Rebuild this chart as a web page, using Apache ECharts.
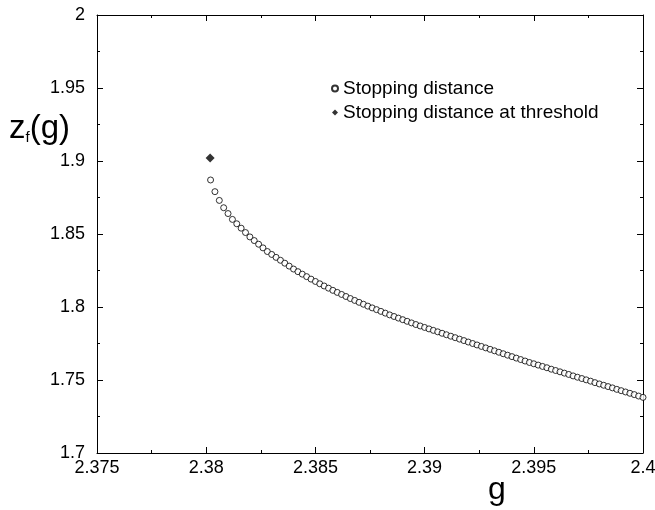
<!DOCTYPE html>
<html>
<head>
<meta charset="utf-8">
<script src="https://cdn.jsdelivr.net/npm/echarts@6/dist/echarts.min.js"></script>
<style>
  html, body { margin: 0; padding: 0; background: #fff; }
  #chart { width: 655px; height: 510px; }
</style>
</head>
<body>
<div id="chart"></div>
<script>
// stopping distance z_f(g)
const gValues = [
  2.3802, 2.3804, 2.3806, 2.3808, 2.3810, 2.3812, 2.3814, 2.3816, 2.3818, 2.3820,
  2.3822, 2.3824, 2.3826, 2.3828, 2.3830, 2.3832, 2.3834, 2.3836, 2.3838, 2.3840,
  2.3842, 2.3844, 2.3846, 2.3848, 2.3850, 2.3852, 2.3854, 2.3856, 2.3858, 2.3860,
  2.3862, 2.3864, 2.3866, 2.3868, 2.3870, 2.3872, 2.3874, 2.3876, 2.3878, 2.3880,
  2.3882, 2.3884, 2.3886, 2.3888, 2.3890, 2.3892, 2.3894, 2.3896, 2.3898, 2.3900,
  2.3902, 2.3904, 2.3906, 2.3908, 2.3910, 2.3912, 2.3914, 2.3916, 2.3918, 2.3920,
  2.3922, 2.3924, 2.3926, 2.3928, 2.3930, 2.3932, 2.3934, 2.3936, 2.3938, 2.3940,
  2.3942, 2.3944, 2.3946, 2.3948, 2.3950, 2.3952, 2.3954, 2.3956, 2.3958, 2.3960,
  2.3962, 2.3964, 2.3966, 2.3968, 2.3970, 2.3972, 2.3974, 2.3976, 2.3978, 2.3980,
  2.3982, 2.3984, 2.3986, 2.3988, 2.3990, 2.3992, 2.3994, 2.3996, 2.3998, 2.4000
]
const zValues = [
  1.8870, 1.8790, 1.8730, 1.8680, 1.8640, 1.8600, 1.8570, 1.8540, 1.8510, 1.8480,
  1.8455, 1.8430, 1.8405, 1.8380, 1.8360, 1.8340, 1.8320, 1.8300, 1.8280, 1.8260,
  1.8242, 1.8225, 1.8208, 1.8191, 1.8175, 1.8159, 1.8144, 1.8129, 1.8114, 1.8100,
  1.8086, 1.8072, 1.8058, 1.8045, 1.8032, 1.8019, 1.8006, 1.7994, 1.7982, 1.7970,
  1.7958, 1.7946, 1.7935, 1.7924, 1.7913, 1.7902, 1.7891, 1.7880, 1.7870, 1.7860,
  1.7850, 1.7840, 1.7830, 1.7820, 1.7810, 1.7800, 1.7790, 1.7780, 1.7770, 1.7760,
  1.7750, 1.7740, 1.7730, 1.7720, 1.7710, 1.7700, 1.7690, 1.7680, 1.7670, 1.7660,
  1.7650, 1.7640, 1.7630, 1.7620, 1.7611, 1.7602, 1.7593, 1.7584, 1.7574, 1.7565,
  1.7556, 1.7547, 1.7538, 1.7528, 1.7519, 1.7510, 1.7501, 1.7492, 1.7482, 1.7473,
  1.7464, 1.7455, 1.7446, 1.7436, 1.7427, 1.7418, 1.7409, 1.7400, 1.7390, 1.7381
]
// threshold point
const thresholdG = [2.38018]
const thresholdZ = [1.9020]

const FONT = 'Liberation Sans'

const chart = echarts.init(document.getElementById('chart'))

// shared axis look: black frame, ticks pointing inward
const frameAxis = {
  axisLine: { show: true, onZero: false, lineStyle: { color: '#000', width: 1 } },
  axisTick: { show: true, inside: true, length: 6, lineStyle: { color: '#000' } },
  minorTick: { show: true, splitNumber: 2, length: 3, lineStyle: { color: '#000' } },
  splitLine: { show: false }
}

const option = {
  backgroundColor: '#fff',
  animation: false,
  textStyle: { fontFamily: FONT, color: '#000' },
  grid: { left: 97, right: 12, top: 15, bottom: 57, containLabel: false, outerBoundsMode: 'none' },
  legend: {
    orient: 'vertical',
    left: 326,
    top: 74,
    itemGap: 5,
    itemWidth: 6,
    itemHeight: 6,
    textStyle: { fontFamily: FONT, fontSize: 19, color: '#000' },
    data: ['Stopping distance', 'Stopping distance at threshold']
  },
  xAxis: [
    {
      type: 'value', min: 2.375, max: 2.4, interval: 0.005, position: 'bottom',
      ...frameAxis,
      axisLabel: { color: '#000', fontSize: 18, fontFamily: FONT, margin: 6,
        formatter: (v) => String(parseFloat(v.toFixed(4))) }
    },
    {
      type: 'value', min: 2.375, max: 2.4, interval: 0.005, position: 'top',
      ...frameAxis, axisLabel: { show: false }
    }
  ],
  yAxis: [
    {
      type: 'value', min: 1.7, max: 2, interval: 0.05, position: 'left',
      ...frameAxis,
      axisLabel: { color: '#000', fontSize: 18, fontFamily: FONT, margin: 12,
        formatter: (v) => String(parseFloat(v.toFixed(3))) }
    },
    {
      type: 'value', min: 1.7, max: 2, interval: 0.05, position: 'right',
      ...frameAxis, axisLabel: { show: false }
    }
  ],
  graphic: [
    // y axis title z_f(g)
    {
      type: 'text', left: 9, top: 112,
      style: {
        text: '{z|z}{s|f}{z|(g)}',
        rich: {
          z: { fontSize: 33, fontFamily: FONT, fill: '#000' },
          s: { fontSize: 15, fontFamily: FONT, fill: '#000', verticalAlign: 'bottom', padding: [16, 0, 0, 0] }
        }
      }
    },
    // x axis title, sits right of centre in the original
    {
      type: 'text', left: 488, top: 474,
      style: { text: 'g', fontSize: 32, fontFamily: FONT, fill: '#000' }
    }
  ],
  series: [
    {
      name: 'Stopping distance',
      type: 'scatter',
      symbol: 'circle',
      symbolSize: 6,
      itemStyle: { color: '#fff', borderColor: '#000', borderWidth: 1 },
      data: gValues.map((g, i) => [g, zValues[i]])
    },
    {
      name: 'Stopping distance at threshold',
      type: 'scatter',
      symbol: 'diamond',
      symbolSize: 9,
      itemStyle: { color: '#000' },
      data: thresholdG.map((g, i) => [g, thresholdZ[i]])
    }
  ]
}

chart.setOption(option)
</script>
</body>
</html>
